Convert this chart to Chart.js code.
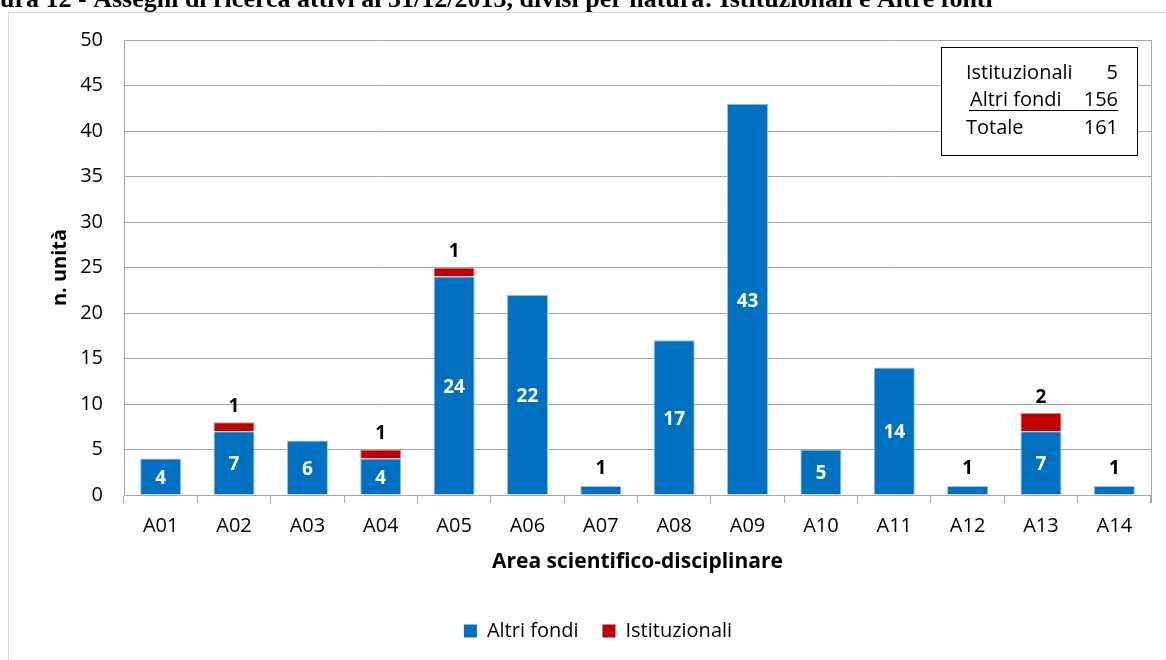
<!DOCTYPE html>
<html>
<head>
<meta charset="utf-8">
<script src="https://cdn.jsdelivr.net/npm/chart.js@4.4.1/dist/chart.umd.min.js"></script>
<style>
  html, body { margin: 0; padding: 0; background: #ffffff; overflow: hidden; }
  canvas { display: block; }
</style>
</head>
<body>
<canvas id="chart" width="1166" height="660"></canvas>
<script>
// Aree scientifico-disciplinari
const categories = ['A01', 'A02', 'A03', 'A04', 'A05', 'A06', 'A07', 'A08', 'A09', 'A10', 'A11', 'A12', 'A13', 'A14'];
// Assegni finanziati da altri fondi
const altriFondi = [4, 7, 6, 4, 24, 22, 1, 17, 43, 5, 14, 1, 7, 1];
// Assegni istituzionali
const istituzionali = [0, 1, 0, 1, 1, 0, 0, 0, 0, 0, 0, 0, 2, 0];
// Asse verticale
const yMin = 0, yMax = 50, yStep = 5;

const figureTitle = 'Figura 12 - Assegni di ricerca attivi al 31/12/2013, divisi per natura: Istituzionali e Altre fonti';
const sum = arr => arr.reduce((a, b) => a + b, 0);
const summaryRows = [
  ['Istituzionali', sum(istituzionali)],
  ['Altri fondi', sum(altriFondi)],
  ['Totale', sum(istituzionali) + sum(altriFondi)]
];

const FONT = '"Open Sans", Lato, sans-serif';
const GRID = '#a8a8a8';
const BLUE = '#0070c0';
const RED = '#c00000';

// Etichette dei valori sulle colonne
const valueLabels = {
  id: 'valueLabels',
  afterDatasetsDraw(chart) {
    const ctx = chart.ctx;
    ctx.save();
    ctx.font = 'bold 19px ' + FONT;
    ctx.textAlign = 'center';
    ctx.textBaseline = 'middle';
    const mAltri = chart.getDatasetMeta(0);
    const mIst = chart.getDatasetMeta(1);
    mAltri.data.forEach((bar, i) => {
      const v = altriFondi[i];
      if (v > 1) {
        ctx.fillStyle = '#ffffff';
        ctx.fillText(String(v), bar.x, (bar.y + bar.base) / 2 + 2);
      } else if (v === 1 && !istituzionali[i]) {
        ctx.fillStyle = '#000000';
        ctx.fillText(String(v), bar.x, bar.y - 17);
      }
    });
    mIst.data.forEach((bar, i) => {
      const v = istituzionali[i];
      if (v > 0) {
        ctx.fillStyle = '#000000';
        ctx.fillText(String(v), bar.x, bar.y - 16);
      }
    });
    ctx.restore();
  }
};

// Cornici, titolo della figura e riquadro riepilogativo
const decorations = {
  id: 'decorations',
  afterDraw(chart) {
    const ctx = chart.ctx;
    const area = chart.chartArea;
    ctx.save();

    // cornice esterna del grafico
    ctx.strokeStyle = '#d9d9d9';
    ctx.lineWidth = 1;
    ctx.strokeRect(8.5, 12.5, 1300, 800);

    // bordo destro dell'area del tracciato
    ctx.strokeStyle = GRID;
    ctx.beginPath();
    ctx.moveTo(Math.round(area.right) + 0.5, area.top);
    ctx.lineTo(Math.round(area.right) + 0.5, area.bottom + 8);
    ctx.stroke();

    // titolo della figura (parzialmente fuori dal bordo superiore)
    ctx.font = 'bold 26px "Liberation Serif", serif';
    ctx.fillStyle = '#000000';
    ctx.textAlign = 'left';
    ctx.textBaseline = 'alphabetic';
    const lead = ctx.measureText('Fig').width;
    ctx.fillText(figureTitle, -lead, 7);

    // riquadro riepilogativo
    ctx.fillStyle = '#ffffff';
    ctx.fillRect(941, 47, 197, 109);
    ctx.strokeStyle = '#000000';
    ctx.lineWidth = 1;
    ctx.strokeRect(941.5, 47.5, 196, 108);

    ctx.font = '20px ' + FONT;
    ctx.fillStyle = '#000000';
    const baselines = [79, 106, 134];
    const lefts = [966, 970, 966];
    summaryRows.forEach((row, k) => {
      ctx.textAlign = 'left';
      ctx.fillText(row[0], lefts[k], baselines[k]);
      ctx.textAlign = 'right';
      ctx.fillText(String(row[1]), 1118, baselines[k]);
    });
    // sottolineatura della riga "Altri fondi"
    ctx.beginPath();
    ctx.moveTo(969, 110.5);
    ctx.lineTo(1118, 110.5);
    ctx.stroke();

    ctx.restore();
  }
};

Chart.defaults.font.family = FONT;
Chart.defaults.color = '#000000';

new Chart(document.getElementById('chart'), {
  type: 'bar',
  data: {
    labels: categories,
    datasets: [
      {
        label: 'Altri fondi',
        data: altriFondi,
        backgroundColor: BLUE,
        borderColor: '#9cc2e5',
        borderWidth: 1,
        categoryPercentage: 1,
        barPercentage: 0.56
      },
      {
        label: 'Istituzionali',
        data: istituzionali.map(v => v || null),
        backgroundColor: RED,
        borderColor: '#e08080',
        borderWidth: 1,
        categoryPercentage: 1,
        barPercentage: 0.56
      }
    ]
  },
  options: {
    responsive: false,
    animation: false,
    layout: { padding: { left: 45, right: 15, top: 40, bottom: 9 } },
    scales: {
      x: {
        stacked: true,
        grid: {
          display: true,
          offset: true,
          drawOnChartArea: false,
          drawTicks: true,
          tickLength: 8,
          color: GRID,
          tickColor: GRID
        },
        border: { display: true, color: GRID },
        ticks: { font: { size: 20 }, color: '#000000', padding: 11, maxRotation: 0 },
        title: {
          display: true,
          text: 'Area scientifico-disciplinare',
          font: { size: 21, weight: 'bold' },
          color: '#000000',
          padding: { top: 0, bottom: 22 }
        },
        afterFit(scale) { scale.height = 102; }
      },
      y: {
        stacked: true,
        min: yMin,
        max: yMax,
        grid: { color: GRID, drawTicks: false },
        border: { display: true, color: GRID },
        ticks: { stepSize: yStep, font: { size: 20 }, color: '#000000', padding: 21 },
        title: {
          display: true,
          text: 'n. unità',
          font: { size: 20, weight: 'bold' },
          color: '#000000',
          padding: { top: 3, bottom: 0 }
        },
        afterFit(scale) { scale.width = 79; }
      }
    },
    plugins: {
      legend: {
        display: true,
        position: 'bottom',
        labels: {
          font: { size: 20 },
          color: '#000000',
          boxWidth: 13,
          boxHeight: 13,
          padding: 24,
          generateLabels(chart) {
            return Chart.defaults.plugins.legend.labels.generateLabels(chart).map(item => {
              item.lineWidth = 0;
              item.strokeStyle = item.fillStyle;
              return item;
            });
          }
        }
      },
      tooltip: { enabled: false }
    }
  },
  plugins: [valueLabels, decorations]
});
</script>
</body>
</html>
